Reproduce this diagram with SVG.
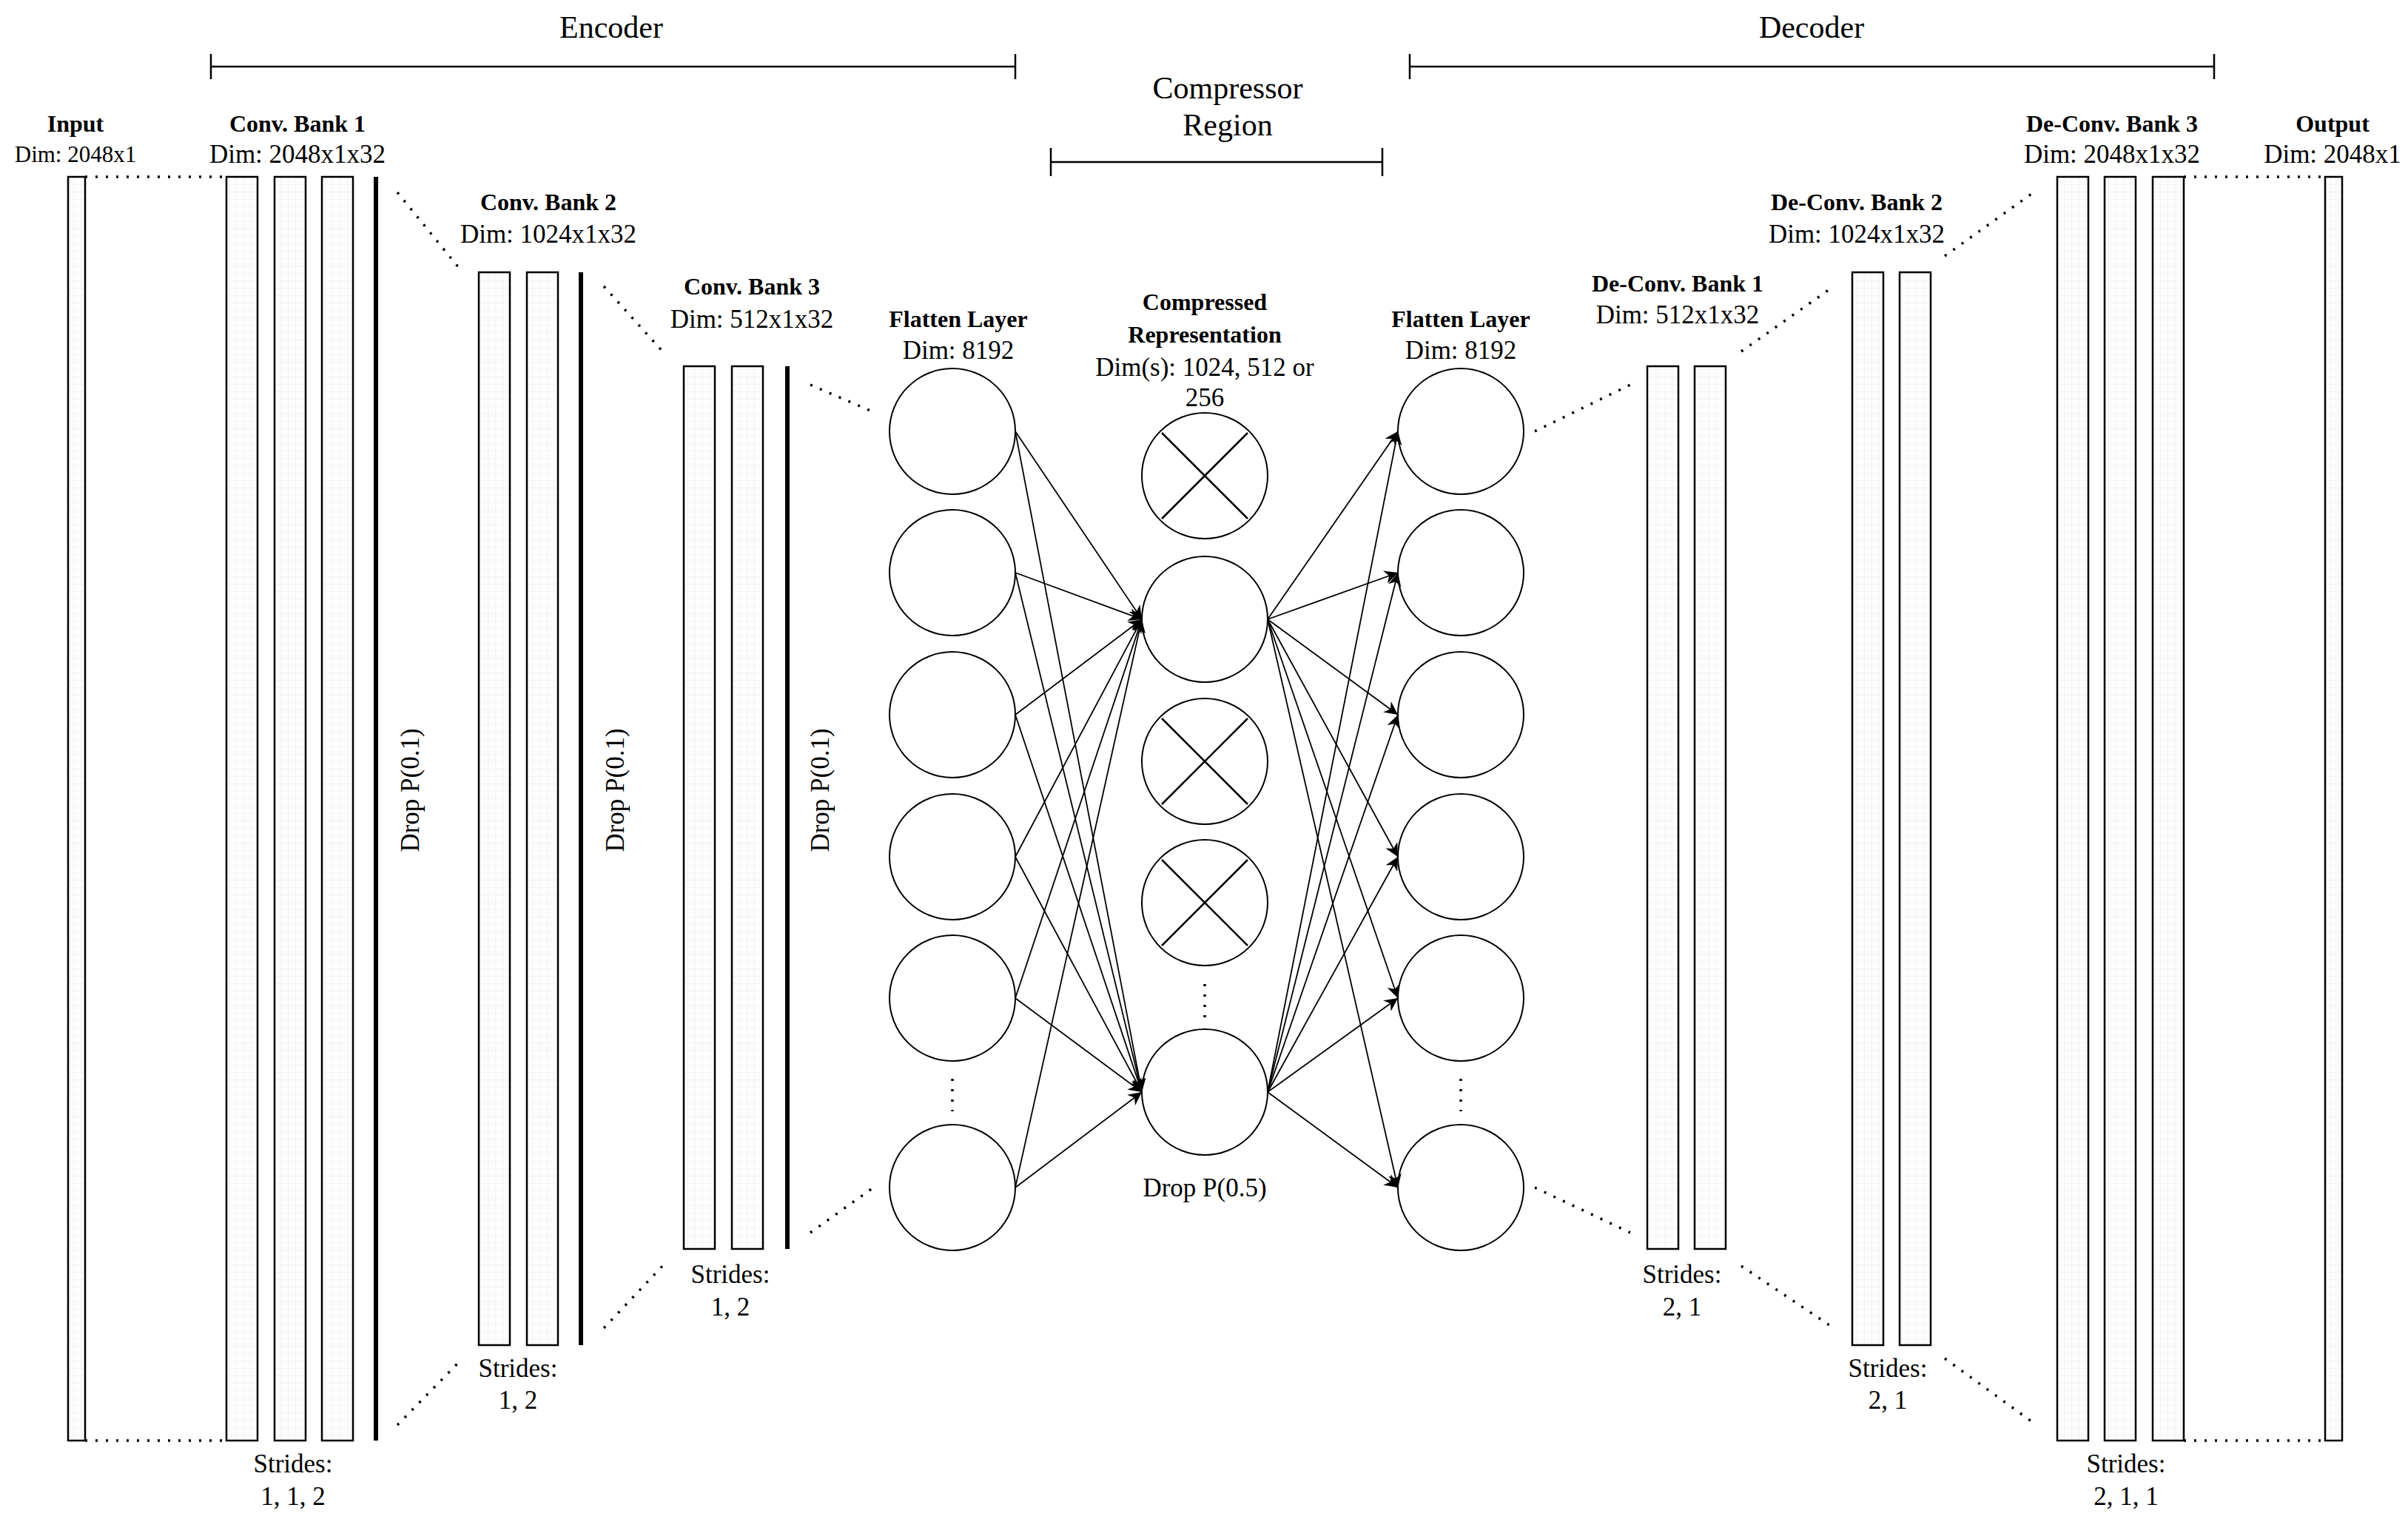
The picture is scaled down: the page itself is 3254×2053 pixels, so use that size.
<svg xmlns="http://www.w3.org/2000/svg" width="3254" height="2053" viewBox="0 0 3254 2053">
<style>
text{font-family:"Liberation Serif",serif;fill:#000;text-anchor:middle}
.t{font-weight:bold;font-size:32px}
.d{font-size:35px}
.h{font-size:42px}
.s{font-size:31px}
.r{fill:url(#grid);stroke:#000;stroke-width:2.5}
.bar{stroke:#000;stroke-width:6}
.dot{stroke:#000;stroke-width:3.5;stroke-dasharray:3 11;fill:none}
.br{stroke:#000;stroke-width:2.5;fill:none}
.c{fill:#fff;stroke:#000;stroke-width:2}
.e{stroke:#000;stroke-width:1.8;fill:none;marker-end:url(#ah)}
</style>
<defs>
<pattern id="grid" width="10" height="10" patternUnits="userSpaceOnUse"><rect width="10" height="10" fill="#fdfdfd"/><path d="M10 0V10M0 10H10" stroke="#ececec" stroke-width="1"/></pattern>
<marker id="ah" viewBox="0 0 10 10" refX="10" refY="5" markerWidth="10" markerHeight="10" markerUnits="userSpaceOnUse" orient="auto"><path d="M0 0L10 5L0 10L3 5Z" fill="#000"/></marker>
<marker id="ah2" viewBox="0 0 10 10" refX="10" refY="5" markerWidth="18" markerHeight="18" markerUnits="userSpaceOnUse" orient="auto"><path d="M0 0L10 5L0 10L3 5Z" fill="#000"/></marker>
</defs>
<rect width="3254" height="2053" fill="#fff"/>
<g id="regions">
<text class="h" x="826" y="51">Encoder</text>
<path class="br" d="M285 90H1372M285 73V107M1372 73V107"/>
<text class="h" x="2448" y="51">Decoder</text>
<path class="br" d="M1905 90H2992M1905 73V107M2992 73V107"/>
<text class="h" x="1659" y="133">Compressor</text>
<text class="h" x="1659" y="183">Region</text>
<path class="br" d="M1420 219H1868M1420 200V238M1868 200V238"/>
</g>
<g id="input">
<text class="t" x="102" y="178">Input</text>
<text class="s" x="102" y="219">Dim: 2048x1</text>
<rect class="r" x="92" y="239" width="23" height="1708"/>
</g>
<g id="conv1">
<text class="t" x="402" y="178">Conv. Bank 1</text>
<text class="d" x="402" y="220">Dim: 2048x1x32</text>
<rect class="r" x="306" y="239" width="42" height="1708"/>
<rect class="r" x="371" y="239" width="42" height="1708"/>
<rect class="r" x="435" y="239" width="42" height="1708"/>
<line class="bar" x1="508" y1="239" x2="508" y2="1947"/>
<text class="d" transform="translate(566 1068) rotate(-90)">Drop P(0.1)</text>
<text class="d" x="396" y="1990">Strides:</text>
<text class="d" x="396" y="2034">1, 1, 2</text>
</g>
<g id="conv2">
<text class="t" x="741" y="284">Conv. Bank 2</text>
<text class="d" x="741" y="328">Dim: 1024x1x32</text>
<rect class="r" x="647" y="368" width="42" height="1450"/>
<rect class="r" x="712" y="368" width="42" height="1450"/>
<line class="bar" x1="785" y1="368" x2="785" y2="1818"/>
<text class="d" transform="translate(843 1068) rotate(-90)">Drop P(0.1)</text>
<text class="d" x="700" y="1861">Strides:</text>
<text class="d" x="700" y="1904">1, 2</text>
</g>
<g id="conv3">
<text class="t" x="1016" y="398">Conv. Bank 3</text>
<text class="d" x="1016" y="443">Dim: 512x1x32</text>
<rect class="r" x="924" y="495" width="42" height="1193"/>
<rect class="r" x="989" y="495" width="42" height="1193"/>
<line class="bar" x1="1064" y1="495" x2="1064" y2="1688"/>
<text class="d" transform="translate(1120 1068) rotate(-90)">Drop P(0.1)</text>
<text class="d" x="987" y="1734">Strides:</text>
<text class="d" x="987" y="1778">1, 2</text>
</g>
<g id="flatten1">
<text class="t" x="1295" y="442">Flatten Layer</text>
<text class="d" x="1295" y="485">Dim: 8192</text>
<circle class="c" cx="1287" cy="583" r="85"/>
<circle class="c" cx="1287" cy="774" r="85"/>
<circle class="c" cx="1287" cy="966" r="85"/>
<circle class="c" cx="1287" cy="1158" r="85"/>
<circle class="c" cx="1287" cy="1349" r="85"/>
<circle class="c" cx="1287" cy="1605" r="85"/>
<path class="dot" d="M1287 1458V1502"/>
</g>
<g id="compressed">
<text class="t" x="1628" y="419">Compressed</text>
<text class="t" x="1628" y="463">Representation</text>
<text class="d" x="1628" y="508">Dim(s): 1024, 512 or</text>
<text class="d" x="1628" y="549">256</text>
<circle class="c" cx="1628" cy="643" r="85"/>
<path class="br" stroke-width="2" d="M1570 585L1686 701M1686 585L1570 701"/>
<circle class="c" cx="1628" cy="837" r="85"/>
<circle class="c" cx="1628" cy="1029" r="85"/>
<path class="br" stroke-width="2" d="M1570 971L1686 1087M1686 971L1570 1087"/>
<circle class="c" cx="1628" cy="1220" r="85"/>
<path class="br" stroke-width="2" d="M1570 1162L1686 1278M1686 1162L1570 1278"/>
<path class="dot" d="M1628 1330V1375"/>
<circle class="c" cx="1628" cy="1476" r="85"/>
<text class="d" x="1628" y="1617">Drop P(0.5)</text>
</g>
<g id="flatten2">
<text class="t" x="1974" y="442">Flatten Layer</text>
<text class="d" x="1974" y="485">Dim: 8192</text>
<circle class="c" cx="1974" cy="583" r="85"/>
<circle class="c" cx="1974" cy="774" r="85"/>
<circle class="c" cx="1974" cy="966" r="85"/>
<circle class="c" cx="1974" cy="1158" r="85"/>
<circle class="c" cx="1974" cy="1349" r="85"/>
<circle class="c" cx="1974" cy="1605" r="85"/>
<path class="dot" d="M1974 1458V1502"/>
</g>
<g id="deconv1">
<text class="t" x="2267" y="394">De-Conv. Bank 1</text>
<text class="d" x="2267" y="437">Dim: 512x1x32</text>
<rect class="r" x="2226" y="495" width="42" height="1193"/>
<rect class="r" x="2290" y="495" width="42" height="1193"/>
<text class="d" x="2273" y="1734">Strides:</text>
<text class="d" x="2273" y="1778">2, 1</text>
</g>
<g id="deconv2">
<text class="t" x="2509" y="284">De-Conv. Bank 2</text>
<text class="d" x="2509" y="328">Dim: 1024x1x32</text>
<rect class="r" x="2503" y="368" width="42" height="1450"/>
<rect class="r" x="2567" y="368" width="42" height="1450"/>
<text class="d" x="2551" y="1861">Strides:</text>
<text class="d" x="2551" y="1904">2, 1</text>
</g>
<g id="deconv3">
<text class="t" x="2854" y="178">De-Conv. Bank 3</text>
<text class="d" x="2854" y="220">Dim: 2048x1x32</text>
<rect class="r" x="2780" y="239" width="42" height="1708"/>
<rect class="r" x="2844" y="239" width="42" height="1708"/>
<rect class="r" x="2909" y="239" width="42" height="1708"/>
<text class="d" x="2873" y="1990">Strides:</text>
<text class="d" x="2873" y="2034">2, 1, 1</text>
</g>
<g id="output">
<text class="t" x="3152" y="178">Output</text>
<text class="d" x="3152" y="220">Dim: 2048x1</text>
<rect class="r" x="3142" y="239" width="23" height="1708"/>
</g>
<g id="connectors">
<path class="dot" d="M115 239H306M115 1947H306"/>
<path class="dot" d="M537 260L625 368M537 1926L625 1836"/>
<path class="dot" d="M816 387L899 479M816 1795L899 1707"/>
<path class="dot" d="M1095 520L1183 558M1095 1666L1183 1603"/>
<path class="dot" d="M2074 583L2203 520M2074 1605L2203 1666"/>
<path class="dot" d="M2353 475L2478 387M2353 1711L2478 1795"/>
<path class="dot" d="M2628 346L2748 260M2628 1836L2752 1926"/>
<path class="dot" d="M2951 239H3142M2951 1947H3142"/>
<g marker-end="url(#ah2)" class="e">
<line x1="1372" y1="583" x2="1543" y2="837" marker-end="url(#ah2)"/>
<line x1="1372" y1="774" x2="1543" y2="837" marker-end="url(#ah2)"/>
<line x1="1372" y1="966" x2="1543" y2="837" marker-end="url(#ah2)"/>
<line x1="1372" y1="1158" x2="1543" y2="837" marker-end="url(#ah2)"/>
<line x1="1372" y1="1349" x2="1543" y2="837" marker-end="url(#ah2)"/>
<line x1="1372" y1="1605" x2="1543" y2="837" marker-end="url(#ah2)"/>
<line x1="1372" y1="583" x2="1543" y2="1476" marker-end="url(#ah2)"/>
<line x1="1372" y1="774" x2="1543" y2="1476" marker-end="url(#ah2)"/>
<line x1="1372" y1="966" x2="1543" y2="1476" marker-end="url(#ah2)"/>
<line x1="1372" y1="1158" x2="1543" y2="1476" marker-end="url(#ah2)"/>
<line x1="1372" y1="1349" x2="1543" y2="1476" marker-end="url(#ah2)"/>
<line x1="1372" y1="1605" x2="1543" y2="1476" marker-end="url(#ah2)"/>
<line x1="1713" y1="837" x2="1889" y2="583" marker-end="url(#ah2)"/>
<line x1="1713" y1="837" x2="1889" y2="774" marker-end="url(#ah2)"/>
<line x1="1713" y1="837" x2="1889" y2="966" marker-end="url(#ah2)"/>
<line x1="1713" y1="837" x2="1889" y2="1158" marker-end="url(#ah2)"/>
<line x1="1713" y1="837" x2="1889" y2="1349" marker-end="url(#ah2)"/>
<line x1="1713" y1="837" x2="1889" y2="1605" marker-end="url(#ah2)"/>
<line x1="1713" y1="1476" x2="1889" y2="583" marker-end="url(#ah2)"/>
<line x1="1713" y1="1476" x2="1889" y2="774" marker-end="url(#ah2)"/>
<line x1="1713" y1="1476" x2="1889" y2="966" marker-end="url(#ah2)"/>
<line x1="1713" y1="1476" x2="1889" y2="1158" marker-end="url(#ah2)"/>
<line x1="1713" y1="1476" x2="1889" y2="1349" marker-end="url(#ah2)"/>
<line x1="1713" y1="1476" x2="1889" y2="1605" marker-end="url(#ah2)"/>
</g>
</g>
</svg>
